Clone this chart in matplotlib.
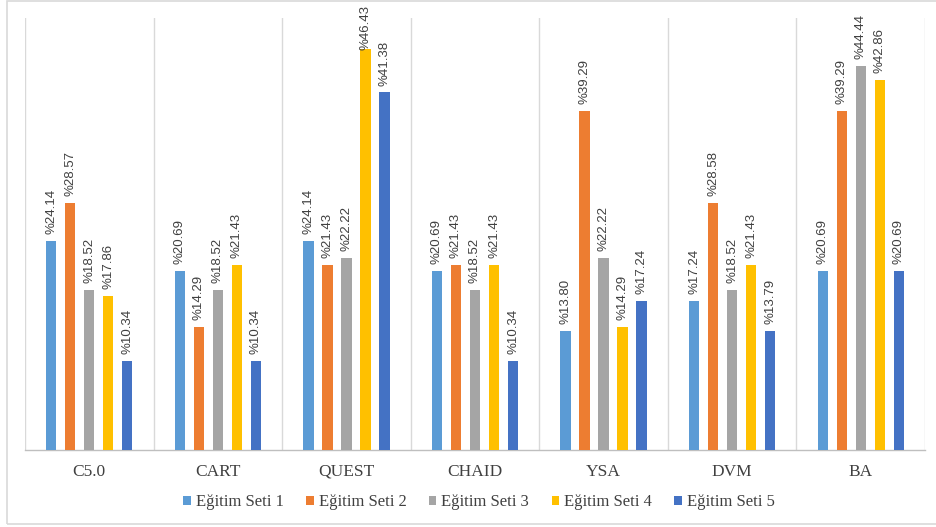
import matplotlib
matplotlib.use("Agg")
import matplotlib.pyplot as plt
from matplotlib.patches import Rectangle
import numpy as np

categories = ["C5.0", "CART", "QUEST", "CHAID", "YSA", "DVM", "BA"]
series_names = ["Eğitim Seti 1", "Eğitim Seti 2", "Eğitim Seti 3", "Eğitim Seti 4", "Eğitim Seti 5"]
set1 = [24.14, 20.69, 24.14, 20.69, 13.80, 17.24, 20.69]
set2 = [28.57, 14.29, 21.43, 21.43, 39.29, 28.58, 39.29]
set3 = [18.52, 18.52, 22.22, 18.52, 22.22, 18.52, 44.44]
set4 = [17.86, 21.43, 46.43, 21.43, 14.29, 21.43, 42.86]
set5 = [10.34, 10.34, 41.38, 10.34, 17.24, 13.79, 20.69]
value_labels = [
    ["%24.14", "%20.69", "%24.14", "%20.69", "%13.80", "%17.24", "%20.69"],
    ["%28.57", "%14.29", "%21.43", "%21.43", "%39.29", "%28.58", "%39.29"],
    ["%18.52", "%18.52", "%22.22", "%18.52", "%22.22", "%18.52", "%44.44"],
    ["%17.86", "%21.43", "%46.43", "%21.43", "%14.29", "%21.43", "%42.86"],
    ["%10.34", "%10.34", "%41.38", "%10.34", "%17.24", "%13.79", "%20.69"],
]
colors = ["#5B9BD5", "#ED7D31", "#A5A5A5", "#FFC000", "#4472C4"]

series = [set1, set2, set3, set4, set5]

fig = plt.figure(figsize=(9.37, 5.27), dpi=100)
ax = fig.add_axes([25 / 937, 1 - 450 / 527, 900 / 937, 432 / 527])

x = np.arange(len(categories))
step = 0.148
width = 0.080
label_font = ["Liberation Sans", "DejaVu Sans"]
label_gap = 5  # points between bar top and its value label

texts = []
for i, (vals, col) in enumerate(zip(series, colors)):
    pos = x + (i - 2) * step
    ax.bar(pos, vals, width=width, color=col, label=series_names[i], zorder=3)
    for px, v, txt in zip(pos, vals, value_labels[i]):
        t = ax.annotate(txt, (px, v), xytext=(0, label_gap), textcoords="offset points",
                        rotation=90, ha="center", va="bottom", fontsize=9.5,
                        color="#404040", family=label_font, annotation_clip=False,
                        zorder=4)
        texts.append(t)

ax.set_xlim(-0.5, len(categories) - 0.5)
ax.set_ylim(0, 50)

# category separators
for b in np.arange(-0.5, len(categories) + 0.5, 1.0):
    ax.axvline(b, color="#D9D9D9", lw=1.0, zorder=1)

for s in ["top", "right", "left"]:
    ax.spines[s].set_visible(False)
ax.spines["bottom"].set_color("#BFBFBF")
ax.spines["bottom"].set_linewidth(1.0)

ax.set_yticks([])
ax.set_xticks(x)
ax.set_xticklabels(categories, family=["Liberation Serif", "DejaVu Serif"],
                   fontsize=12.5, color="#404040")
ax.tick_params(axis="x", length=0, pad=10)

leg = fig.legend(loc="center", bbox_to_anchor=(479 / 937, 1 - 502 / 527), ncol=5,
                 frameon=False, handlelength=0.45, handleheight=0.45,
                 handletextpad=0.3, columnspacing=1.35,
                 prop={"family": ["Liberation Serif", "DejaVu Serif"], "size": 12})
for t in leg.get_texts():
    t.set_color("#404040")

# light frame round the chart
fig.patches.append(Rectangle((7 / 937, 1 - 524 / 527), 940 / 937, 523 / 527,
                             transform=fig.transFigure, fill=False,
                             edgecolor="#D9D9D9", lw=1.2))

# keep value labels inside the figure: slide tall ones down onto their bar
fig.canvas.draw()
renderer = fig.canvas.get_renderer()
top_limit = fig.bbox.height - 5
for t in texts:
    bb = t.get_window_extent(renderer)
    if bb.y1 > top_limit:
        shift_px = bb.y1 - top_limit
        t.set_position((0, label_gap - shift_px * 72 / fig.dpi))

fig.savefig("out.png", dpi=100)
